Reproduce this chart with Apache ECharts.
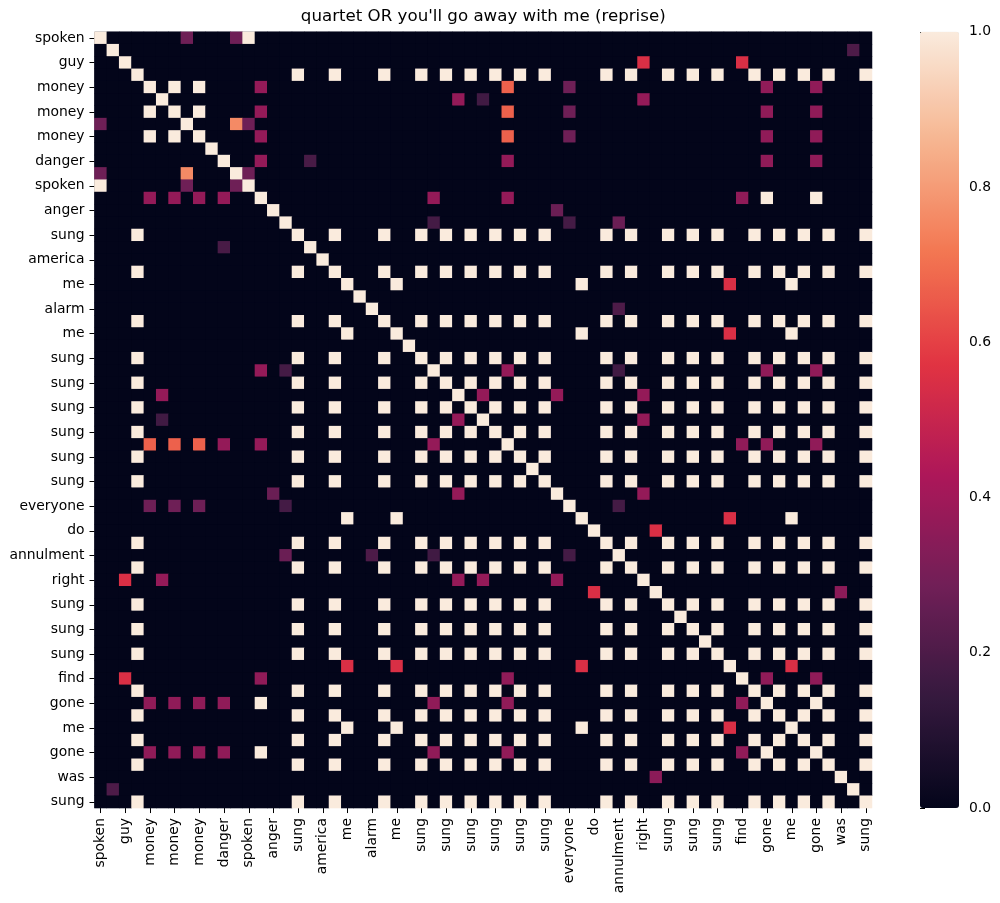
<!DOCTYPE html>
<html>
<head>
<meta charset="utf-8">
<script src="https://cdn.jsdelivr.net/npm/echarts@6/dist/echarts.min.js"></script>
<style>
html,body{margin:0;padding:0;background:#fff;}
#chart{width:1000px;height:903px;}
</style>
</head>
<body>
<div id="chart"></div>
<script>
const titleText = "quartet OR you'll go away with me (reprise)";
// 63 segments; only every other label is printed on the axes
const labels = [
  "spoken", "", "guy", "sung", "money", "", "money", "", "money", "",
  "danger", "", "spoken", "gone", "anger", "", "sung", "", "america", "sung",
  "me", "", "alarm", "sung", "me", "", "sung", "", "sung", "",
  "sung", "", "sung", "", "sung", "", "sung", "", "everyone", "me",
  "do", "sung", "annulment", "sung", "right", "", "sung", "", "sung", "",
  "sung", "", "find", "sung", "gone", "sung", "me", "sung", "gone", "sung",
  "was", "", "sung"
];
// groups of segments that are fully similar (value 1.0) to each other
const spokenRows = [0, 12];
const moneyRows = [4, 6, 8];
const goneRows = [13, 54, 58];
const meRows = [20, 24, 39, 56];
const sungRows = [3, 16, 19, 23, 26, 28, 30, 32, 34, 36, 41, 43, 46, 48, 50, 53, 55, 57, 59, 62];
// partial similarities [row, col, value], upper triangle (matrix is symmetric)
const partialPairs = [
  [0, 7, 0.28], [0, 11, 0.28], [1, 61, 0.20], [2, 44, 0.55], [2, 52, 0.55],
  [4, 13, 0.37], [4, 33, 0.67], [4, 38, 0.28], [4, 54, 0.36], [4, 58, 0.36],
  [5, 29, 0.37], [5, 31, 0.17], [5, 44, 0.37],
  [6, 13, 0.37], [6, 33, 0.67], [6, 38, 0.28], [6, 54, 0.36], [6, 58, 0.36],
  [7, 11, 0.76], [7, 12, 0.28],
  [8, 13, 0.37], [8, 33, 0.67], [8, 38, 0.28], [8, 54, 0.36], [8, 58, 0.36],
  [10, 13, 0.37], [10, 17, 0.19], [10, 33, 0.37], [10, 54, 0.36], [10, 58, 0.36],
  [11, 12, 0.28],
  [13, 27, 0.37], [13, 33, 0.37], [13, 52, 0.36],
  [14, 37, 0.27],
  [15, 27, 0.18], [15, 38, 0.18], [15, 42, 0.27],
  [20, 51, 0.55], [22, 42, 0.20], [24, 51, 0.55],
  [27, 33, 0.37], [27, 42, 0.17], [27, 54, 0.36], [27, 58, 0.36],
  [29, 31, 0.37], [29, 37, 0.37], [29, 44, 0.37], [31, 44, 0.37],
  [33, 52, 0.36], [33, 54, 0.36], [33, 58, 0.36],
  [37, 44, 0.37], [38, 42, 0.18], [39, 51, 0.55], [40, 45, 0.55], [45, 60, 0.35],
  [51, 56, 0.55], [52, 54, 0.36], [52, 58, 0.36]
];
const colorTicks = [0, 0.2, 0.4, 0.6, 0.8, 1.0];
const rocket = ['#03051A', '#35193E', '#701F57', '#AD1759', '#E13342', '#F37651', '#F6B48F', '#FAEBDD'];

// build the symmetric matrix
const n = labels.length;
const M = [];
for (let i = 0; i < n; i++) { M.push(new Array(n).fill(0)); M[i][i] = 1; }
[spokenRows, moneyRows, goneRows, meRows, sungRows].forEach(g => {
  g.forEach(a => g.forEach(b => { M[a][b] = 1; }));
});
partialPairs.forEach(([a, b, v]) => { M[a][b] = v; M[b][a] = v; });
const data = [];
for (let i = 0; i < n; i++) for (let j = 0; j < n; j++) data.push([j, i, M[i][j]]);

const FONT = 'DejaVu Sans';
const FS = 13.9;
const G = {left: 94.5, top: 31.85, width: 777.5, height: 776.2};
const CB = {left: 920, top: 31.85, width: 39, height: 776.2};

const chart = echarts.init(document.getElementById('chart'), null, {renderer: 'canvas'});
chart.setOption({
  animation: false,
  backgroundColor: '#ffffff',
  textStyle: {fontFamily: FONT},
  title: {
    text: titleText, left: G.left + G.width / 2, top: 8, textAlign: 'center', padding: 0,
    textStyle: {fontFamily: FONT, fontSize: 16.67, fontWeight: 'normal', color: '#000'}
  },
  grid: [
    {left: G.left, top: G.top, width: G.width, height: G.height, show: true, backgroundColor: rocket[0], borderWidth: 0},
    {left: CB.left, top: CB.top, width: CB.width, height: CB.height, show: false}
  ],
  xAxis: [
    {
      type: 'category', data: labels, gridIndex: 0, position: 'bottom',
      axisLine: {show: false},
      axisTick: {show: true, interval: 1, alignWithLabel: true, length: 5, lineStyle: {color: '#000', width: 1}},
      axisLabel: {interval: 1, rotate: 90, margin: 10, fontFamily: FONT, fontSize: FS, color: '#000'},
      splitLine: {show: false}, splitArea: {show: false}
    },
    {type: 'value', gridIndex: 1, min: 0, max: 1, show: false}
  ],
  yAxis: [
    {
      type: 'category', data: labels, gridIndex: 0, inverse: true,
      axisLine: {show: false},
      axisTick: {show: true, interval: 1, alignWithLabel: true, length: 5, lineStyle: {color: '#000', width: 1}},
      axisLabel: {interval: 1, margin: 10, fontFamily: FONT, fontSize: FS, color: '#000'},
      splitLine: {show: false}, splitArea: {show: false}
    },
    {
      type: 'value', gridIndex: 1, min: 0, max: 1, interval: 0.2, position: 'right',
      axisLine: {show: false},
      axisTick: {show: true, length: 5, lineStyle: {color: '#000', width: 1}},
      axisLabel: {margin: 10, fontFamily: FONT, fontSize: FS, color: '#000',
        formatter: v => colorTicks.includes(+v.toFixed(1)) ? v.toFixed(1) : ''},
      splitLine: {show: false}
    }
  ],
  visualMap: {
    type: 'continuous', min: 0, max: 1, calculable: false, hoverLink: false,
    orient: 'vertical', left: CB.left, top: CB.top, padding: 0,
    itemWidth: CB.width, itemHeight: CB.height, text: null,
    inRange: {color: rocket}, seriesIndex: 0
  },
  series: [{
    type: 'heatmap', xAxisIndex: 0, yAxisIndex: 0, data: data,
    silent: true, progressive: 0, itemStyle: {borderWidth: 0},
    emphasis: {disabled: true}
  }]
});
</script>
</body>
</html>
